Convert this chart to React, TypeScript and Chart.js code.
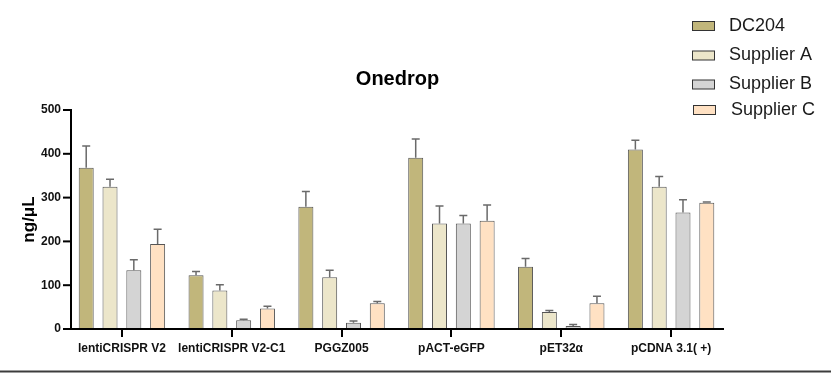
import React, { useEffect, useRef } from 'react';
import { Chart, registerables } from 'chart.js';

Chart.register(...registerables);

const categories = ['lentiCRISPR V2', 'lentiCRISPR V2-C1', 'PGGZ005', 'pACT-eGFP', 'pET32α', 'pCDNA 3.1( +)'];
const seriesNames = ['DC204', 'Supplier A', 'Supplier B', 'Supplier C'];

const dc204 = [368, 123, 279, 391, 142, 410];
const dc204Err = [50, 8, 35, 43, 19, 21];
const supplierA = [325, 88, 118, 241, 39, 325];
const supplierAErr = [17, 13, 16, 40, 3, 23];
const supplierB = [134, 20, 14, 241, 7, 266];
const supplierBErr = [24, 2, 4, 18, 3, 29];
const supplierC = [194, 47, 59, 247, 59, 288];
const supplierCErr = [34, 5, 4, 36, 16, 2];

const yTicks = [0, 100, 200, 300, 400, 500];

const colors = ['#C1B67B', '#ECE6CA', '#D4D4D4', '#FFE1C3'];
const errs = [dc204Err, supplierAErr, supplierBErr, supplierCErr];

const FONT = '"Liberation Sans", Arial, sans-serif';

const customPlugin = {
  id: 'customDraw',
  afterDatasetsDraw(chart: any) {
    const ctx = chart.ctx;
    const ys = chart.scales.y;
    const xs = chart.scales.x;
    ctx.save();
    // error bars
    chart.data.datasets.forEach((ds: any, di: number) => {
      const meta = chart.getDatasetMeta(di);
      meta.data.forEach((bar: any, i: number) => {
        const v = ds.data[i];
        const e = errs[di][i];
        const yTop = ys.getPixelForValue(v + e);
        const yBar = ys.getPixelForValue(v);
        ctx.strokeStyle = '#6a6a6a';
        ctx.lineWidth = 1.5;
        ctx.beginPath();
        ctx.moveTo(bar.x, yBar);
        ctx.lineTo(bar.x, yTop);
        ctx.moveTo(bar.x - 4, yTop);
        ctx.lineTo(bar.x + 4, yTop);
        ctx.stroke();
      });
    });
    // axes
    ctx.fillStyle = '#000';
    const yBottom = ys.getPixelForValue(0);
    const yTopAx = ys.getPixelForValue(500);
    ctx.fillRect(70, yTopAx - 1, 2, yBottom - yTopAx + 2);
    yTicks.forEach((t) => {
      const py = ys.getPixelForValue(t);
      ctx.fillRect(63, py - 1, 8, 2);
    });
    ctx.fillRect(70, yBottom - 1, 654, 2);
    categories.forEach((_, i) => {
      const px = xs.getPixelForValue(i);
      ctx.fillRect(Math.round(px) - 1, yBottom, 2, 8);
    });
    ctx.restore();
  },
  afterDraw(chart: any) {
    const ctx = chart.ctx;
    ctx.save();
    // title
    ctx.fillStyle = '#000';
    ctx.font = `bold 20px ${FONT}`;
    ctx.textAlign = 'center';
    ctx.textBaseline = 'middle';
    ctx.fillText('Onedrop', 397.5, 79);
    // legend
    const ly = [26, 55.5, 84.5, 110];
    const lx = [729, 729, 729, 731];
    const bx = [692.5, 692.5, 692.5, 693.5];
    ctx.font = `18px ${FONT}`;
    ctx.textAlign = 'left';
    seriesNames.forEach((name, i) => {
      ctx.fillStyle = colors[i];
      ctx.fillRect(bx[i], ly[i] - 4.5, 22, 9);
      ctx.strokeStyle = '#333';
      ctx.lineWidth = 1;
      ctx.strokeRect(bx[i], ly[i] - 4.5, 22, 9);
      ctx.fillStyle = '#1a1a1a';
      ctx.fillText(name, lx[i], ly[i]);
    });
    // bottom rule
    ctx.fillStyle = '#3c3c3c';
    ctx.fillRect(0, 370.5, 831, 2);
    ctx.restore();
  },
};

export default function App() {
  const ref = useRef<HTMLCanvasElement>(null);
  useEffect(() => {
    if (!ref.current) return;
    const values = [dc204, supplierA, supplierB, supplierC];
    const chart = new Chart(ref.current, {
      type: 'bar',
      data: {
        labels: categories,
        datasets: seriesNames.map((name, i) => ({
          label: name,
          data: values[i],
          backgroundColor: colors[i],
          borderColor: '#555',
          borderWidth: 1,
          categoryPercentage: 0.867,
          barPercentage: 0.63,
        })),
      },
      options: {
        responsive: false,
        animation: false,
        layout: { padding: { top: 110, right: 105, left: 0, bottom: 0 } },
        plugins: {
          legend: { display: false },
          title: { display: false },
          tooltip: { enabled: false },
        },
        scales: {
          x: {
            grid: { display: false, drawTicks: false },
            border: { display: false },
            ticks: {
              padding: 12,
              autoSkip: false,
              maxRotation: 0,
              color: '#111',
              font: { family: FONT, size: 12, weight: 'bold' },
            },
            afterFit: (s: any) => {
              s.height = 45;
            },
          },
          y: {
            min: 0,
            max: 500,
            grid: { display: false, drawTicks: false },
            border: { display: false },
            ticks: {
              stepSize: 100,
              padding: 6,
              color: '#111',
              font: { family: FONT, size: 12, weight: 'bold' },
            },
            title: {
              display: true,
              text: 'ng/μL',
              color: '#000',
              font: { family: FONT, size: 17, weight: 'bold' },
              padding: { top: 19, bottom: 0 },
            },
            afterFit: (s: any) => {
              s.width = 67;
            },
          },
        },
      },
      plugins: [customPlugin],
    });
    return () => chart.destroy();
  }, []);
  return (
    <div style={{ position: 'fixed', left: 0, top: 0, width: 831, height: 374, background: '#fff' }}>
      <canvas ref={ref} width={831} height={374} style={{ display: 'block' }} />
    </div>
  );
}
